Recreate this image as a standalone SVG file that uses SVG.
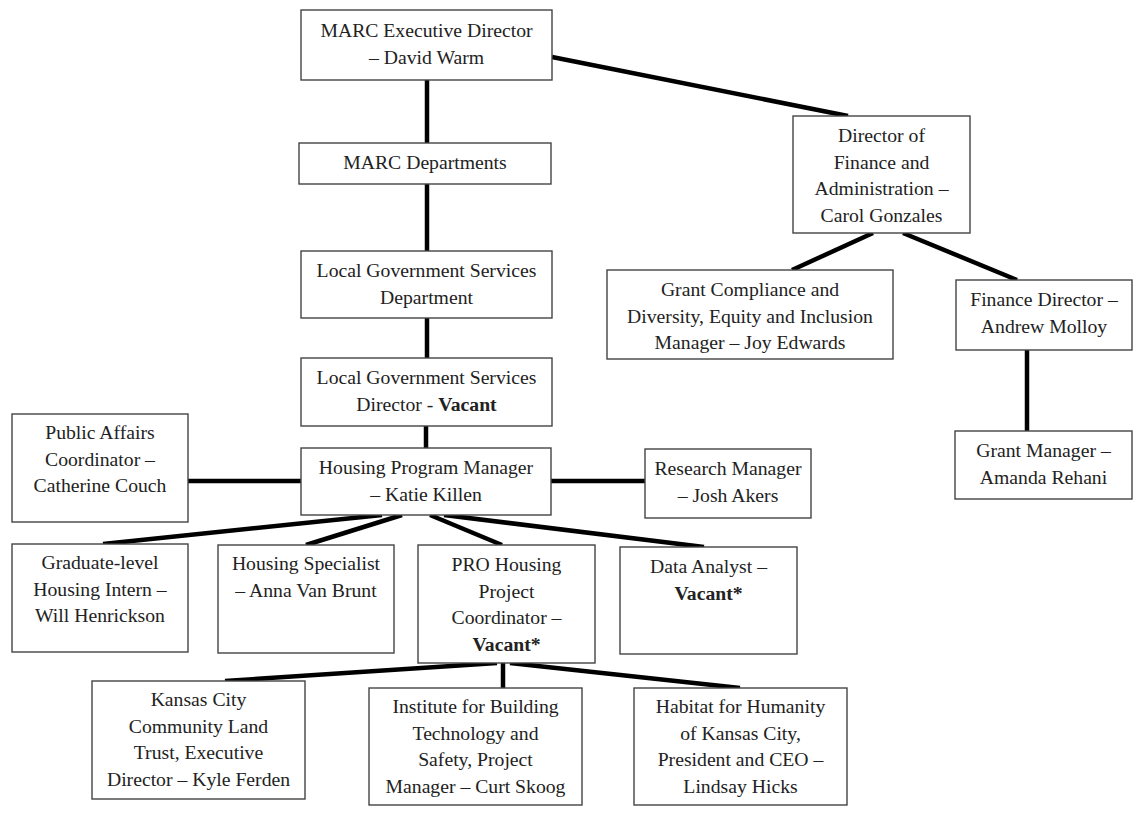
<svg xmlns="http://www.w3.org/2000/svg" width="1136" height="813" viewBox="0 0 1136 813">
<style>
.box{fill:#fff;stroke:#444;stroke-width:1.4}
.t{font-family:"Liberation Serif","Times New Roman",serif;font-size:19.7px;fill:#222;text-anchor:middle}
.b{font-weight:bold}
.c{stroke:#000;stroke-width:4.5;fill:none}
</style>
<rect width="1136" height="813" fill="#fff"/>
<g id="connectors">
<line class="c" x1="427" y1="80" x2="427" y2="143"/>
<line class="c" x1="427" y1="184" x2="427" y2="251"/>
<line class="c" x1="427" y1="318" x2="427" y2="358"/>
<line class="c" x1="426" y1="426" x2="426" y2="448"/>
<line class="c" x1="552" y1="57" x2="848" y2="116"/>
<line class="c" x1="873" y1="233" x2="792" y2="270"/>
<line class="c" x1="903" y1="233" x2="1017" y2="280"/>
<line class="c" x1="1027" y1="350" x2="1027" y2="431"/>
<line class="c" x1="188" y1="481" x2="301" y2="481"/>
<line class="c" x1="551" y1="481" x2="645" y2="481"/>
<line class="c" x1="382" y1="515" x2="103" y2="544"/>
<line class="c" x1="402" y1="515" x2="306" y2="545"/>
<line class="c" x1="430" y1="515" x2="502" y2="545"/>
<line class="c" x1="444" y1="515" x2="704" y2="547"/>
<line class="c" x1="497" y1="663" x2="225" y2="681"/>
<line class="c" x1="503" y1="663" x2="503" y2="688"/>
<line class="c" x1="510" y1="663" x2="740" y2="688"/>
</g>
<g id="exec"><rect class="box" x="301" y="10" width="251" height="70"/>
<text class="t" x="426.5" y="37">MARC Executive Director</text><text class="t" x="426.5" y="63.5">– David Warm</text></g>
<g id="depts"><rect class="box" x="299" y="143" width="252" height="41"/>
<text class="t" x="425" y="169">MARC Departments</text></g>
<g id="lgs-dept"><rect class="box" x="301" y="251" width="251" height="67"/>
<text class="t" x="426.5" y="277">Local Government Services</text><text class="t" x="426.5" y="303.5">Department</text></g>
<g id="lgs-dir"><rect class="box" x="301" y="358" width="251" height="68"/>
<text class="t" x="426.5" y="384">Local Government Services</text><text class="t" x="426.5" y="410.5">Director - <tspan class="b">Vacant</tspan></text></g>
<g id="hpm"><rect class="box" x="301" y="448" width="250" height="67"/>
<text class="t" x="426" y="474">Housing Program Manager</text><text class="t" x="426" y="500.5">– Katie Killen</text></g>
<g id="pa"><rect class="box" x="12" y="414" width="176" height="108"/>
<text class="t" x="100" y="439">Public Affairs</text><text class="t" x="100" y="465.5">Coordinator –</text><text class="t" x="100" y="492">Catherine Couch</text></g>
<g id="research"><rect class="box" x="645" y="449" width="166" height="69"/>
<text class="t" x="728" y="475">Research Manager</text><text class="t" x="728" y="501.5">– Josh Akers</text></g>
<g id="dirfin"><rect class="box" x="793" y="116" width="177" height="117"/>
<text class="t" x="881.5" y="142">Director of</text><text class="t" x="881.5" y="168.5">Finance and</text><text class="t" x="881.5" y="195">Administration –</text><text class="t" x="881.5" y="221.5">Carol Gonzales</text></g>
<g id="grant-compliance"><rect class="box" x="607" y="270" width="286" height="89"/>
<text class="t" x="750" y="296">Grant Compliance and</text><text class="t" x="750" y="322.5">Diversity, Equity and Inclusion</text><text class="t" x="750" y="349">Manager – Joy Edwards</text></g>
<g id="fin-dir"><rect class="box" x="956" y="280" width="176" height="70"/>
<text class="t" x="1044" y="306">Finance Director –</text><text class="t" x="1044" y="332.5">Andrew Molloy</text></g>
<g id="grant-mgr"><rect class="box" x="955" y="431" width="177" height="68"/>
<text class="t" x="1043.5" y="457">Grant Manager –</text><text class="t" x="1043.5" y="483.5">Amanda Rehani</text></g>
<g id="intern"><rect class="box" x="12" y="544" width="176" height="108"/>
<text class="t" x="100" y="569">Graduate-level</text><text class="t" x="100" y="595.5">Housing Intern –</text><text class="t" x="100" y="622">Will Henrickson</text></g>
<g id="specialist"><rect class="box" x="218" y="545" width="176" height="108"/>
<text class="t" x="306" y="570">Housing Specialist</text><text class="t" x="306" y="596.5">– Anna Van Brunt</text></g>
<g id="pro"><rect class="box" x="418" y="545" width="177" height="118"/>
<text class="t" x="506.5" y="571">PRO Housing</text><text class="t" x="506.5" y="597.5">Project</text><text class="t" x="506.5" y="624">Coordinator –</text><text class="t b" x="506.5" y="650.5">Vacant*</text></g>
<g id="analyst"><rect class="box" x="620" y="547" width="177" height="107"/>
<text class="t" x="708.5" y="573">Data Analyst –</text><text class="t b" x="708.5" y="599.5">Vacant*</text></g>
<g id="kcclt"><rect class="box" x="92" y="681" width="213" height="118"/>
<text class="t" x="198.5" y="706">Kansas City</text><text class="t" x="198.5" y="732.5">Community Land</text><text class="t" x="198.5" y="759">Trust, Executive</text><text class="t" x="198.5" y="785.5">Director – Kyle Ferden</text></g>
<g id="ibts"><rect class="box" x="369" y="688" width="213" height="117"/>
<text class="t" x="475.5" y="713">Institute for Building</text><text class="t" x="475.5" y="739.5">Technology and</text><text class="t" x="475.5" y="766">Safety, Project</text><text class="t" x="475.5" y="792.5">Manager – Curt Skoog</text></g>
<g id="habitat"><rect class="box" x="634" y="688" width="213" height="117"/>
<text class="t" x="740.5" y="713">Habitat for Humanity</text><text class="t" x="740.5" y="739.5">of Kansas City,</text><text class="t" x="740.5" y="766">President and CEO –</text><text class="t" x="740.5" y="792.5">Lindsay Hicks</text></g>
</svg>
